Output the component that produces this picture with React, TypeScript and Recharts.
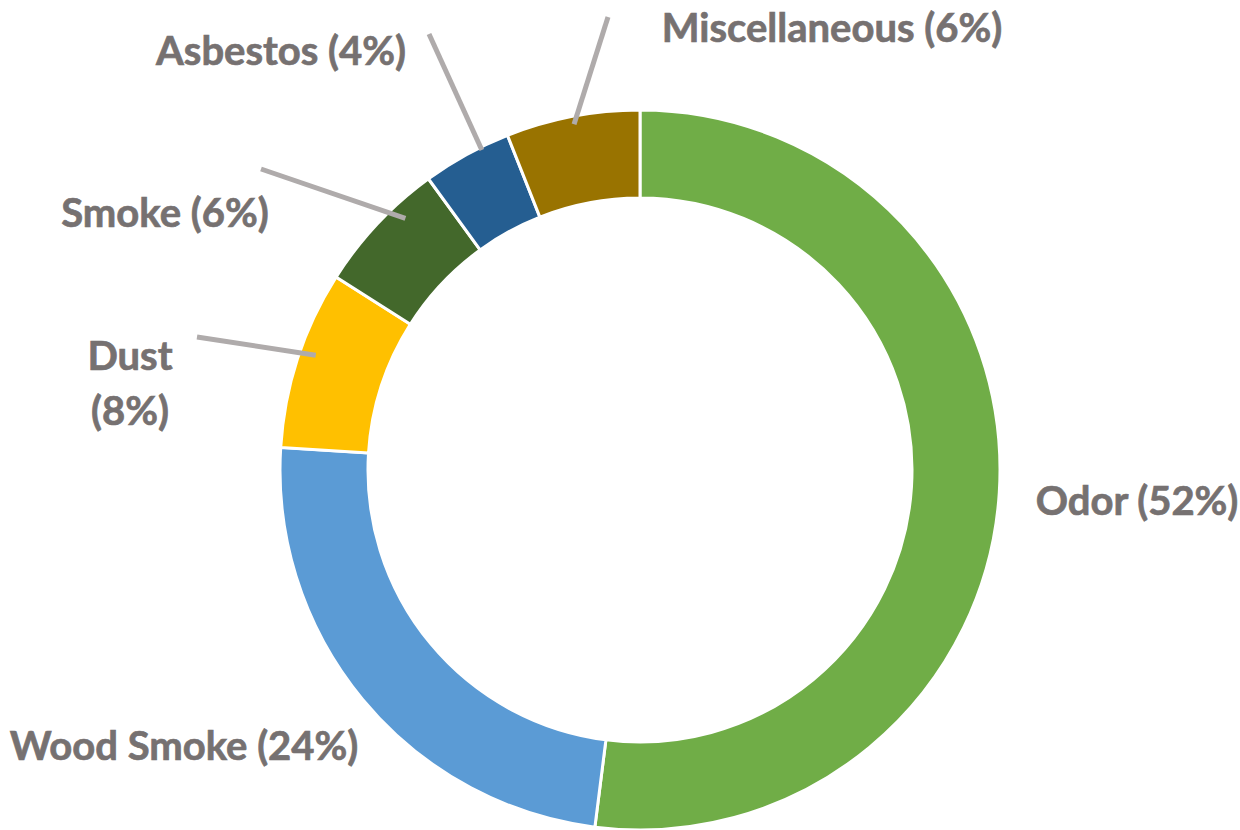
import React from "react";
import { PieChart, Pie, Cell } from "recharts";

const categories = ["Odor", "Wood Smoke", "Dust", "Smoke", "Asbestos", "Miscellaneous"];
const shares = [52, 24, 8, 6, 4, 6];
const colors = ["#70AD47", "#5B9BD5", "#FFC000", "#43682B", "#255E91", "#997300"];

const data = categories.map((name, i) => ({ name, value: shares[i] }));

type Lead = { dx: number; dy: number; dAngle: number; r: number };
// label layout relative to the pie centre (text lines, optional leader line: start offset, end as polar tweak)
const labelLayout: Record<string, { lines: { dx: number; dy: number; text: (n: string, p: number) => string }[]; lead?: Lead }> = {
  Odor: { lines: [{ dx: 497, dy: 30, text: (n, p) => `${n} (${p}%)` }] },
  "Wood Smoke": { lines: [{ dx: -456, dy: 275, text: (n, p) => `${n} (${p}%)` }] },
  Dust: {
    lines: [
      { dx: -510, dy: -115, text: (n) => n },
      { dx: -510, dy: -60, text: (_n, p) => `(${p}%)` },
    ],
    lead: { dx: -443, dy: -133, dAngle: -1.5, r: 344 },
  },
  Smoke: { lines: [{ dx: -475, dy: -258, text: (n, p) => `${n} (${p}%)` }], lead: { dx: -379, dy: -301, dAngle: -3.8, r: 344 } },
  Asbestos: { lines: [{ dx: -359, dy: -420, text: (n, p) => `${n} (${p}%)` }], lead: { dx: -211, dy: -436, dAngle: -2.5, r: 357 } },
  Miscellaneous: { lines: [{ dx: 192, dy: -443, text: (n, p) => `${n} (${p}%)` }], lead: { dx: -32, dy: -453, dAngle: 0, r: 352 } },
};

const RAD = Math.PI / 180;

const renderLabel = (props: any) => {
  const { cx, cy, midAngle, name, value } = props;
  const layout = labelLayout[name];
  if (!layout) return null;
  const lead = layout.lead;
  let ex = 0;
  let ey = 0;
  if (lead) {
    const a = midAngle + lead.dAngle;
    ex = cx + lead.r * Math.cos(-a * RAD);
    ey = cy + lead.r * Math.sin(-a * RAD);
  }
  return (
    <g>
      {lead && (
        <line x1={cx + lead.dx} y1={cy + lead.dy} x2={ex} y2={ey} stroke="#AFABAB" strokeWidth={5} />
      )}
      {layout.lines.map((l, i) => (
        <text
          key={i}
          x={cx + l.dx}
          y={cy + l.dy}
          textAnchor="middle"
          dominantBaseline="central"
          fill="#767171"
          stroke="#767171"
          strokeWidth={0.7}
          fontFamily="Lato, 'Open Sans', sans-serif"
          fontWeight={700}
          fontSize={40}
        >
          {l.text(name, value)}
        </text>
      ))}
    </g>
  );
};

export default function App() {
  return (
    <div style={{ position: "absolute", left: 0, top: 0, width: 1240, height: 830, background: "#fff" }}>
      <PieChart width={1240} height={830} margin={{ top: 0, right: 0, bottom: 0, left: 0 }}>
        <Pie
          data={data}
          dataKey="value"
          nameKey="name"
          cx={640}
          cy={470}
          innerRadius={272}
          outerRadius={360}
          startAngle={90}
          endAngle={-270}
          stroke="#FFFFFF"
          strokeWidth={3}
          label={renderLabel}
          labelLine={false}
          isAnimationActive={false}
        >
          {data.map((d, i) => (
            <Cell key={d.name} fill={colors[i]} />
          ))}
        </Pie>
      </PieChart>
    </div>
  );
}
